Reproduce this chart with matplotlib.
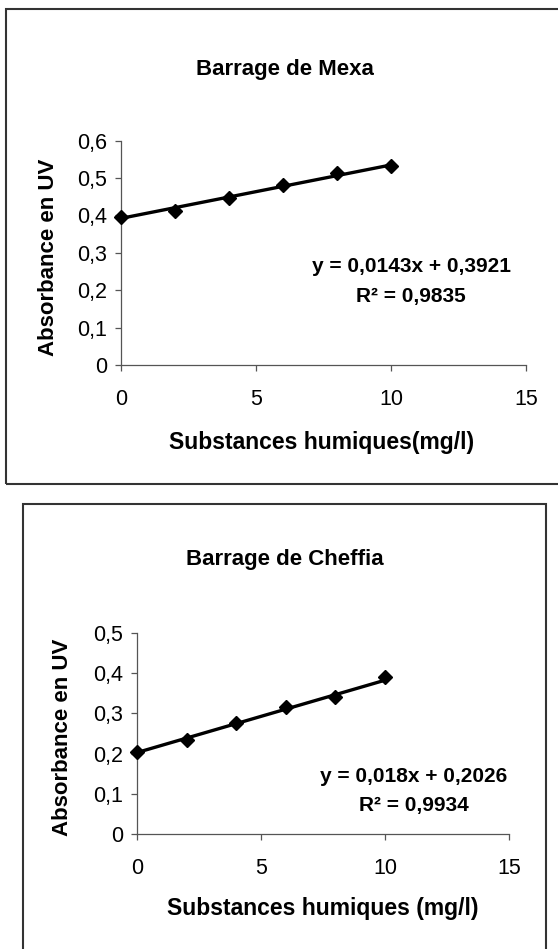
import numpy as np
import matplotlib
matplotlib.use("Agg")
import matplotlib.pyplot as plt
from matplotlib.patches import Rectangle
from matplotlib.ticker import FuncFormatter

plt.rcParams['font.family'] = ['Liberation Sans', 'DejaVu Sans']

# donnees
conc = [0, 2, 4, 6, 8, 10]
abs_mexa = [0.395, 0.413, 0.447, 0.482, 0.513, 0.532]
abs_cheffia = [0.203, 0.235, 0.275, 0.315, 0.340, 0.390]
fit_mexa = (0.0143, 0.3921, 0.9835)
fit_cheffia = (0.018, 0.2026, 0.9934)

W, H = 558, 949
fig = plt.figure(figsize=(W / 100, H / 100), dpi=100)

def px(x0, y0, x1, y1):
    # pixels (origine en haut a gauche) -> fractions de figure
    return [x0 / W, 1 - y1 / H, (x1 - x0) / W, (y1 - y0) / H]

def txt(x, y, s, **kw):
    fig.text(x / W, 1 - y / H, s, ha='center', va='center', fontweight='bold', **kw)

def virgule(v, pos):
    if v == 0:
        return "0"
    return ("%g" % round(v, 2)).replace(".", ",")

def graphe(cadre, axe, y, fit, ymax, titre, xlab, pos):
    x0, y0, x1, y1 = cadre
    fig.patches.append(Rectangle((x0 / W, 1 - y1 / H), (x1 - x0) / W, (y1 - y0) / H,
                                 transform=fig.transFigure, fill=False,
                                 edgecolor='#333333', lw=1.5))
    ax = fig.add_axes(px(*axe))
    ax.plot(conc, y, 'D', color='black', markersize=7, zorder=3, clip_on=False)
    xx = np.array([0, 10])
    ax.plot(xx, fit[0] * xx + fit[1], color='black', lw=2.4, zorder=2,
            solid_capstyle='butt', clip_on=False)
    ax.set_xlim(0, 15)
    ax.set_ylim(0, ymax)
    ax.set_xticks([0, 5, 10, 15])
    ax.set_yticks(np.arange(0, ymax + 0.001, 0.1))
    ax.yaxis.set_major_formatter(FuncFormatter(virgule))
    for s in ['top', 'right']:
        ax.spines[s].set_visible(False)
    for s in ['left', 'bottom']:
        ax.spines[s].set_color('#555555')
        ax.spines[s].set_linewidth(0.9)
    ax.tick_params(axis='y', direction='out', length=4, width=0.9, labelsize=15.5,
                   pad=6, color='#555555')
    ax.tick_params(axis='x', direction='out', length=4, width=0.9, labelsize=15.5,
                   pad=13, color='#555555')
    ax.patch.set_alpha(0)

    txt(pos['titre'][0], pos['titre'][1], titre, fontsize=16)
    txt(pos['xlab'][0], pos['xlab'][1], xlab, fontsize=16.5)
    txt(pos['ylab'][0], pos['ylab'][1], "Absorbance en UV", fontsize=16, rotation=90)
    eq = "y = %sx + %s" % (str(fit[0]).replace(".", ","), str(fit[1]).replace(".", ","))
    r2 = "R² = %s" % str(fit[2]).replace(".", ",")
    txt(pos['eq'][0], pos['eq'][1], eq, fontsize=15)
    txt(pos['eq'][0], pos['eq'][1] + 29.5, r2, fontsize=15)
    return ax

graphe((6, 9, 561, 484), (120.7, 140.7, 526, 365), abs_mexa, fit_mexa, 0.6,
       "Barrage de Mexa", "Substances humiques(mg/l)",
       {'titre': (285, 70), 'xlab': (322, 442), 'ylab': (48.5, 257), 'eq': (411, 267)})
graphe((23, 504, 545.5, 960), (137, 633, 509, 834), abs_cheffia, fit_cheffia, 0.5,
       "Barrage de Cheffia", "Substances humiques (mg/l)",
       {'titre': (285, 560), 'xlab': (323, 909), 'ylab': (63, 737), 'eq': (414, 776)})

fig.savefig("out.png", dpi=100)
